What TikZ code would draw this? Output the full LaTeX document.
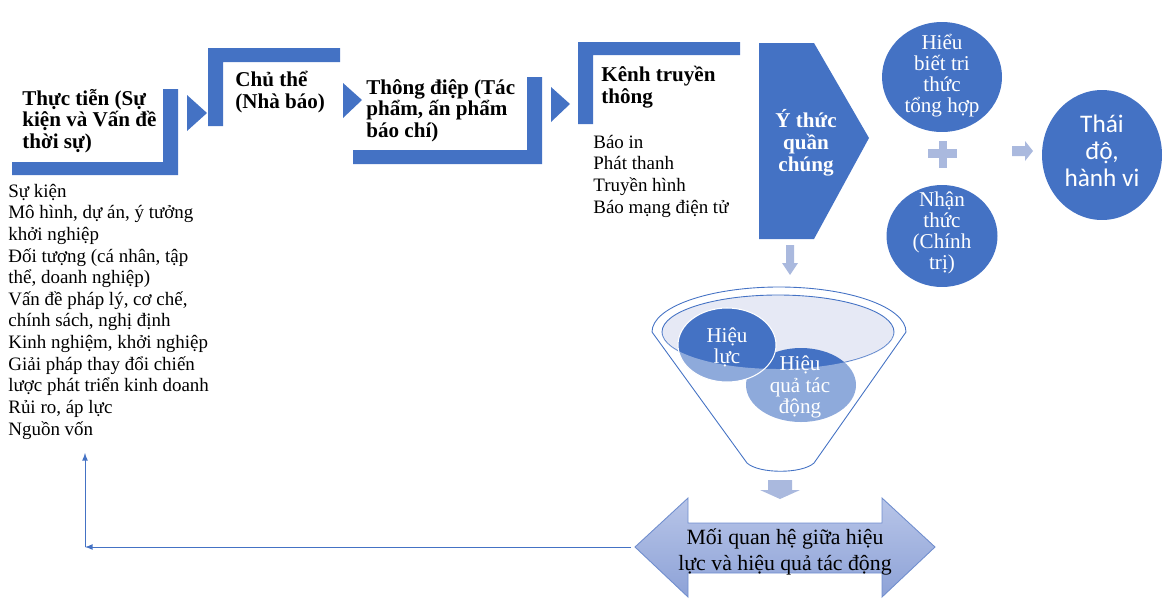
\documentclass[tikz,border=0pt]{standalone}
\usepackage{fontspec}
\setmainfont{Liberation Serif}
\newfontfamily\calibri{Carlito}
\usepackage{xcolor}
\usepackage{tikz}
\usetikzlibrary{shapes,arrows,positioning,calc}
\definecolor{vnBlue}{RGB}{68,114,196}
\definecolor{vnPale}{RGB}{170,185,222}
\definecolor{vnLavender}{RGB}{230,233,245}
\definecolor{vnArrowTop}{RGB}{184,197,232}
\definecolor{vnArrowBot}{RGB}{141,162,215}
\definecolor{vnEdge}{RGB}{112,142,206}

\tikzset{
  band/.style={fill=vnBlue},
  pale/.style={fill=vnPale},
  steptitle/.style={font=\bfseries\fontsize{12}{12.2}\selectfont, align=left, anchor=base west, inner sep=0pt},
  itemlist/.style={font=\fontsize{10.8}{12.3}\selectfont, align=left, anchor=base west, inner sep=0pt},
  bubble/.style={ellipse, fill=vnBlue, inner sep=0pt},
  bubbletext/.style={text=white, font=\fontsize{12}{12}\selectfont, align=center, inner sep=0pt},
  funnelline/.style={draw=vnBlue, line width=0.5pt},
  feedback/.style={draw=vnBlue, line width=0.5pt}
}

\begin{document}
\begin{tikzpicture}[x=0.02cm, y=-0.02cm, >=latex]
    \useasboundingbox (0,0) rectangle (1166,609);

    % Steps (text anchored on the last line)
    \fill[band] (12,162) -- (163,162) -- (163,89) -- (178,89) -- (178,175) -- (12,175) -- cycle;
    \node[steptitle] (thuctien) at (22,148) {Thực tiễn (Sự\\kiện và Vấn đề\\thời sự)};
    \fill[band] (187,95) -- (207,113) -- (187,131) -- cycle;

    \fill[band] (208,48) -- (340,48) -- (340,62) -- (223,62) -- (223,126) -- (208,126) -- cycle;
    \node[steptitle] (chuthe) at (235,108) {Chủ thể\\(Nhà báo)};
    \fill[band] (343,83) -- (362,100) -- (343,118) -- cycle;

    \fill[band] (353,150) -- (527,150) -- (527,77) -- (542,77) -- (542,164) -- (353,164) -- cycle;
    \node[steptitle] (thongdiep) at (366,137) {Thông điệp (Tác\\phẩm, ấn phẩm\\báo chí)};
    \fill[band] (551,87) -- (570,104) -- (551,122) -- cycle;

    \fill[band] (578,42) -- (740,42) -- (740,55) -- (593,55) -- (593,124) -- (578,124) -- cycle;
    \node[steptitle] (kenh) at (601,103) {Kênh truyền\\thông};

    % Lists
    \node[itemlist] (suviec) at (8,435) {Sự kiện\\Mô hình, dự án, ý tưởng\\khởi nghiệp\\Đối tượng (cá nhân, tập\\thể, doanh nghiệp)\\Vấn đề pháp lý, cơ chế,\\chính sách, nghị định\\Kinh nghiệm, khởi nghiệp\\Giải pháp thay đổi chiến\\lược phát triển kinh doanh\\Rủi ro, áp lực\\Nguồn vốn};
    \node[itemlist] (kenhlist) at (593,213) {Báo in\\Phát thanh\\Truyền hình\\Báo mạng điện tử};

    % Public awareness
    \fill[band] (759,43) -- (814,43) -- (869,138) -- (814,239) -- (759,239) -- cycle;
    \node[bubbletext, font=\bfseries\fontsize{12}{12.4}\selectfont] (ythuc) at (806,143) {Ý thức\\quần\\chúng};

    \node[bubble, minimum width=2.4cm, minimum height=2.2cm] (hieubiet) at (942,77) {};
    \node[bubbletext] at (942,76) {Hiểu\\biết tri\\thức\\tổng hợp};
    \node[bubble, minimum width=2.22cm, minimum height=2.04cm] (nhanthuc) at (942,236) {};
    \node[bubbletext] at (942,233) {Nhận\\thức\\(Chính\\trị)};
    \fill[pale] (928,149) rectangle (957,158);
    \fill[pale] (939,141) rectangle (947,168);
    \fill[pale] (1012,146) -- (1025,146) -- (1025,141) -- (1033,151) -- (1025,161) -- (1025,156) -- (1012,156) -- cycle;
    \node[bubble, minimum width=2.4cm, minimum height=2.6cm] (thaido) at (1102,155) {};
    \node[bubbletext, font=\calibri\fontsize{14.4}{15.2}\selectfont] at (1102,151) {Thái\\độ,\\hành vi};

    % Funnel
    \fill[pale] (786,245) -- (794,245) -- (794,263) -- (798,263) -- (790,275) -- (782,263) -- (786,263) -- cycle;
    \filldraw[fill=vnLavender, funnelline] (778,332) ellipse[x radius=116, y radius=37];
    \fill[vnBlue] (801,385) ellipse[x radius=55, y radius=37];
    \filldraw[fill=vnBlue, draw=white, line width=0.6pt] (727,345) ellipse[x radius=49, y radius=37];
    \fill[white, opacity=0.4] (662,332) arc[start angle=180, end angle=0, x radius=116, y radius=37] -- (894,480) -- (662,480) -- cycle;
    \draw[funnelline] (652,332) arc[start angle=180, end angle=360, x radius=127, y radius=45] -- (814,463) .. controls (802,474) and (759,474) .. (747,463) -- cycle;
    \node[bubbletext] (hieuluc) at (727,347) {Hiệu\\lực};
    \node[bubbletext] (hieuqua) at (800,387) {Hiệu\\quả tác\\động};

    % Relation
    \fill[pale] (768,480) -- (792,480) -- (792,490) -- (800,490) -- (780,499) -- (760,490) -- (768,490) -- cycle;
    \path[top color=vnArrowTop, bottom color=vnArrowBot, draw=vnEdge, line width=0.5pt]
        (635,547) coordinate (reltip) -- (688,498) -- (688,523) -- (882,523) -- (882,498) -- (935,547)
        -- (882,597) -- (882,573) -- (688,573) -- (688,597) -- cycle;
    \node[font=\fontsize{12.4}{14.8}\selectfont, align=center, inner sep=0pt] (quanhe) at (785,552) {Mối quan hệ giữa hiệu\\lực và hiệu quả tác động};

    % Feedback
    \coordinate (fbcorner) at (85,547);
    \coordinate (fbtop) at (85,453);
    \draw[feedback, ->] ($(reltip)+(-4,0)$) -- (fbcorner);
    \draw[feedback, ->] (fbcorner) -- (fbtop);
\end{tikzpicture}
\end{document}
